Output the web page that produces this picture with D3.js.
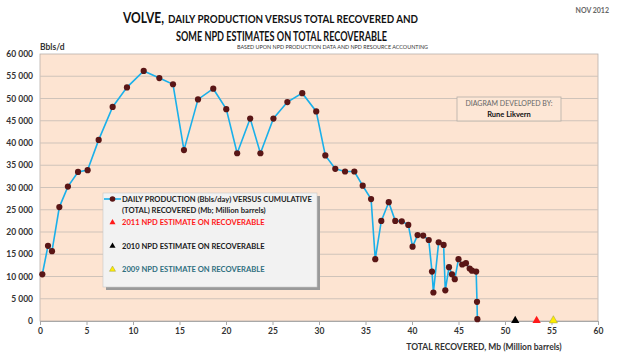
<!DOCTYPE html>
<html><head><meta charset="utf-8">
<script src="https://cdn.jsdelivr.net/npm/d3@7"></script>
<style>
html,body{margin:0;padding:0;background:#fff;}
svg{display:block;font-family:Lato,"Open Sans",sans-serif;}
</style></head>
<body><svg id="c" width="630" height="354"></svg>
<script>
// Cumulative recovered (Mb) and daily production (Bbls/d)
const cumulativeMb = [0.25,0.86,1.29,2.08,3.0,4.09,5.12,6.31,7.81,9.35,11.15,12.83,14.3,15.48,16.99,18.63,20.03,21.2,22.6,23.7,25.1,26.6,28.2,29.7,
  30.68,31.75,32.8,33.8,34.7,35.6,36.05,36.7,37.5,38.2,38.9,39.6,40.06,40.6,41.2,41.8,42.15,42.3,42.87,43.4,43.58,43.98,44.3,44.6,45.0,45.4,45.8,46.2,46.45,46.9,46.99,47.03];
const dailyBbls = [10500,16900,15700,25600,30200,33500,33900,40700,48100,52500,56200,54600,53200,38400,49800,52200,47600,37700,45500,37700,45500,49200,51200,47100,
  37200,34200,33600,33600,30400,27400,13900,22500,26700,22500,22400,21600,16700,19300,19200,18200,11100,6400,17700,17100,6900,12100,10500,9400,13900,12700,13000,11800,11300,11100,4300,400];
const estimateLabels = ["2011 NPD ESTIMATE ON RECOVERABLE","2010 NPD ESTIMATE ON RECOVERABLE","2009 NPD ESTIMATE ON RECOVERABLE"];
const estimateMb = [53.4, 51.1, 55.2];
const estimateColors = ["#ff1a1a","#000000","#ffee00"];
const estimateTextColors = ["#ff1a1a","#1a1a1a","#2f6f7f"];
const xTicks = [0,5,10,15,20,25,30,35,40,45,50,55,60];
const yTicks = [0,5000,10000,15000,20000,25000,30000,35000,40000,45000,50000,55000,60000];

const svg = d3.select("#c");
const x = d3.scaleLinear().domain([0,60]).range([40,598]);
const y = d3.scaleLinear().domain([0,60000]).range([321,54]);
const fmt = v => d3.format(",")(v).replace(/,/g," ");

// plot background
svg.append("rect").attr("x",x(0)).attr("y",y(60000)).attr("width",x(60)-x(0)).attr("height",y(0)-y(60000))
  .attr("fill","#fde4d2").attr("stroke","#b8b0aa").attr("stroke-width",0.8);

// grid
svg.append("g").selectAll("line").data(yTicks.filter(d=>d>0&&d<60000)).join("line")
  .attr("x1",x(0)).attr("x2",x(60)).attr("y1",d=>y(d)).attr("y2",d=>y(d))
  .attr("stroke","#cfc3ba").attr("stroke-width",1);

// axes
const xAxis = svg.append("g").attr("transform",`translate(0,${y(0)})`)
  .call(d3.axisBottom(x).tickValues(xTicks).tickSize(4).tickPadding(3));
xAxis.select(".domain").attr("stroke","#a8a8a8");
xAxis.selectAll(".tick line").attr("stroke","#a8a8a8");
xAxis.selectAll("text").attr("font-size",8.5).attr("font-weight","bold").attr("fill","#333").attr("font-family","Lato");

const yAxis = svg.append("g").attr("transform",`translate(${x(0)},0)`)
  .call(d3.axisLeft(y).tickValues(yTicks).tickFormat(fmt).tickSize(0).tickPadding(7));
yAxis.select(".domain").remove();
yAxis.selectAll("text").attr("font-size",8.5).attr("font-weight","bold").attr("fill","#333").attr("font-family","Lato");

// production line
const pts = cumulativeMb.map((m,i)=>[m,dailyBbls[i]]);
svg.append("path").datum(pts)
  .attr("d",d3.line().x(d=>x(d[0])).y(d=>y(d[1])))
  .attr("fill","none").attr("stroke","#1ab0ea").attr("stroke-width",1.6);
svg.append("g").selectAll("circle").data(pts).join("circle")
  .attr("cx",d=>x(d[0])).attr("cy",d=>y(d[1])).attr("r",3.1).attr("fill","#5a1616");

// estimate triangles
const tri = d3.symbol().type(d3.symbolTriangle).size(30);
svg.append("g").selectAll("path").data(estimateMb).join("path")
  .attr("d",tri).attr("transform",d=>`translate(${x(d)},${y(0)-0.5})`)
  .attr("fill",(d,i)=>estimateColors[i]).attr("stroke",(d,i)=>i===2?"#9a9a40":"none").attr("stroke-width",0.5);

// titles
svg.append("text").attr("x",123).attr("y",22.5).attr("font-weight","bold").attr("font-size",14.5).attr("fill","#111")
  .attr("textLength",41).attr("lengthAdjust","spacingAndGlyphs").text("VOLVE,");
svg.append("text").attr("x",168).attr("y",22.5).attr("font-weight","bold").attr("font-size",12).attr("fill","#111")
  .attr("textLength",250).attr("lengthAdjust","spacingAndGlyphs").text("DAILY PRODUCTION VERSUS TOTAL RECOVERED AND");
svg.append("text").attr("x",176).attr("y",40.5).attr("font-weight","bold").attr("font-size",12.5).attr("fill","#111")
  .attr("textLength",211).attr("lengthAdjust","spacingAndGlyphs").text("SOME NPD ESTIMATES ON TOTAL RECOVERABLE");
svg.append("text").attr("x",237).attr("y",49).attr("font-size",5.6).attr("fill","#333")
  .attr("textLength",191).attr("lengthAdjust","spacingAndGlyphs").text("BASED UPON NPD  PRODUCTION DATA AND NPD RESOURCE ACCOUNTING");
svg.append("text").attr("x",609).attr("y",13).attr("text-anchor","end").attr("font-size",7).attr("font-weight","bold").attr("fill","#666").text("NOV 2012");
svg.append("text").attr("x",40).attr("y",50).attr("font-size",8.5).attr("font-weight","bold").attr("fill","#333").text("Bbls/d");
svg.append("text").attr("x",484).attr("y",350).attr("text-anchor","middle").attr("font-size",8.5).attr("font-weight","bold").attr("fill","#333")
  .text("TOTAL RECOVERED, Mb (Million barrels)");

// credit box
svg.append("rect").attr("x",457).attr("y",97).attr("width",104).attr("height",24).attr("fill","#fde7d6").attr("stroke","#b5aea8").attr("stroke-width",0.8);
svg.append("text").attr("x",509).attr("y",106).attr("text-anchor","middle").attr("font-size",7).attr("fill","#666").text("DIAGRAM DEVELOPED BY:");
svg.append("text").attr("x",509).attr("y",117).attr("text-anchor","middle").attr("font-size",7.5).attr("font-weight","bold").attr("fill","#111").text("Rune Likvern");

// legend
const lg = svg.append("g");
lg.append("rect").attr("x",106).attr("y",196).attr("width",214).attr("height",94).attr("fill","#9a9a9a");
lg.append("rect").attr("x",103).attr("y",193).attr("width",214).attr("height",94).attr("fill","#f2f2f2").attr("stroke","#c8c8c8").attr("stroke-width",0.6);
lg.append("line").attr("x1",104).attr("x2",121).attr("y1",199).attr("y2",199).attr("stroke","#1ab0ea").attr("stroke-width",1.6);
lg.append("circle").attr("cx",112.5).attr("cy",199).attr("r",2.8).attr("fill","#5a1616");
lg.append("text").attr("x",122).attr("y",202).attr("font-size",7.6).attr("font-weight","bold").attr("fill","#222").text("DAILY PRODUCTION (Bbls/day) VERSUS CUMULATIVE");
lg.append("text").attr("x",122).attr("y",212.5).attr("font-size",7.6).attr("font-weight","bold").attr("fill","#222").text("(TOTAL) RECOVERED (Mb; Million barrels)");
const legY = [222.5, 246, 269.5];
[0,1,2].forEach((i,k)=>{
  lg.append("path").attr("d",d3.symbol().type(d3.symbolTriangle).size(16)).attr("transform",`translate(112.5,${legY[k]})`)
    .attr("fill",estimateColors[i]).attr("stroke",i===2?"#9a9a40":"none").attr("stroke-width",0.5);
  lg.append("text").attr("x",122).attr("y",legY[k]+2.8).attr("font-size",7.6).attr("font-weight","bold").attr("fill",estimateTextColors[i]).text(estimateLabels[i]);
});
</script></body></html>
